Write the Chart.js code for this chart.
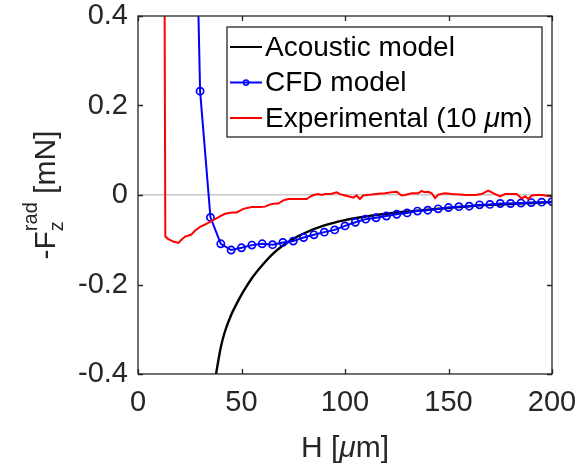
<!DOCTYPE html>
<html>
<head>
<meta charset="utf-8">
<script src="https://cdn.jsdelivr.net/npm/chart.js@4.4.0/dist/chart.umd.min.js"></script>
<style>
html, body { margin: 0; padding: 0; background: #fff; }
</style>
</head>
<body>
<canvas id="chart1" width="577" height="468"></canvas>
<script>
// Acoustic model (black)
const acousticH = [36, 38, 40, 42, 45, 48, 51, 55, 60, 65, 70, 75, 80, 90, 100, 110, 120, 130, 140, 150, 160, 170, 180, 190, 200]
const acousticF = [-0.448, -0.392, -0.340, -0.305, -0.268, -0.240, -0.215, -0.186, -0.157, -0.132, -0.113, -0.098, -0.086, -0.068, -0.056, -0.048, -0.042, -0.037, -0.033, -0.029, -0.025, -0.022, -0.020, -0.018, -0.016]

// CFD model (blue, circles)
const cfdH = [25, 30, 35, 40, 45, 50, 55, 60, 65, 70, 75, 80, 85, 90, 95, 100, 105, 110, 115, 120, 125, 130, 135, 140, 145, 150, 155, 160, 165, 170, 175, 180, 185, 190, 195, 200]
const cfdF = [1.3, 0.232, -0.050, -0.109, -0.123, -0.118, -0.112, -0.109, -0.111, -0.106, -0.103, -0.095, -0.089, -0.083, -0.078, -0.069, -0.061, -0.054, -0.051, -0.047, -0.043, -0.040, -0.036, -0.034, -0.031, -0.028, -0.026, -0.025, -0.022, -0.021, -0.019, -0.019, -0.018, -0.017, -0.016, -0.015]

// Experimental, 10 um (red)
const expH = [12.8, 13.2, 14.5, 17, 19.5, 21, 22.7, 25.6, 27.5, 30, 32.4, 34.8, 37.2, 39.6, 42, 45.3, 47.7, 50.9, 54.9, 58.9, 61.4, 63.8, 66.2, 67.8, 70.2, 72.6, 78.3, 81.5, 83.1, 84.7, 87.1, 88.7, 90.3, 92.8, 94.4, 96, 97.6, 100, 102.4, 104, 105.6, 107.2, 108.8, 110.5, 112.9, 116.1, 119.3, 122.6, 125, 127.4, 129, 132.2, 135.4, 137, 138.6, 140.2, 141.9, 143.5, 145.1, 148.3, 151.5, 155.6, 158, 162.8, 166, 169.2, 171.6, 174.9, 177.3, 180.5, 182.9, 185.4, 187, 188.6, 190.2, 192.6, 195, 198.2, 200]
const expF = [0.5, -0.093, -0.098, -0.104, -0.107, -0.100, -0.093, -0.089, -0.080, -0.071, -0.066, -0.060, -0.054, -0.048, -0.042, -0.039, -0.039, -0.031, -0.027, -0.027, -0.026, -0.021, -0.019, -0.019, -0.012, -0.009, -0.009, -0.009, -0.004, 0, 0.002, 0, 0.002, 0.002, 0.004, 0.006, 0.002, -0.001, -0.004, -0.006, -0.001, -0.009, -0.001, 0, 0.001, 0.003, 0.004, 0.006, 0.007, -0.001, 0, 0.004, 0.004, 0.009, 0.006, 0.007, 0.004, -0.007, 0.001, 0.004, 0.002, 0.001, 0, 0, 0.002, 0.010, 0.004, -0.003, 0.002, 0.002, 0.002, -0.008, -0.003, -0.009, -0.001, 0, 0, -0.002, -0.003]

const xTicks = [0, 50, 100, 150, 200]
const yTicks = [-0.4, -0.2, 0, 0.2, 0.4]
const yTickLabels = ['-0.4', '-0.2', '0', '0.2', '0.4']

const FONT = "'Liberation Sans', Arial, Helvetica, sans-serif"
const AXIS_COLOR = '#262626'

const pts = (xs, ys) => xs.map((h, i) => ({ x: h, y: ys[i] }))

// draw text pieces, italic where asked, returns end x
function drawPieces(ctx, pieces, x, y, size) {
  pieces.forEach(p => {
    ctx.font = (p.italic ? 'italic ' : '') + size + 'px ' + FONT
    ctx.fillText(p.t, x, y)
    x += ctx.measureText(p.t).width
  })
  return x
}
function splitMu(str) {
  const out = []
  str.split('μ').forEach((s, i) => {
    if (i > 0) out.push({ t: 'μ', italic: true })
    if (s) out.push({ t: s })
  })
  return out
}

const boxPlugin = {
  id: 'box',
  afterDatasetsDraw(chart) {
    const { ctx, chartArea: a, scales: { x, y } } = chart
    const tl = 5
    ctx.save()
    ctx.strokeStyle = AXIS_COLOR
    ctx.lineWidth = 1.3
    ctx.beginPath()
    x.ticks.forEach(t => {
      const px = Math.round(x.getPixelForValue(t.value)) + 0.5
      ctx.moveTo(px, a.bottom); ctx.lineTo(px, a.bottom - tl)
      ctx.moveTo(px, a.top); ctx.lineTo(px, a.top + tl)
    })
    y.ticks.forEach(t => {
      const py = Math.round(y.getPixelForValue(t.value)) + 0.5
      ctx.moveTo(a.left, py); ctx.lineTo(a.left + tl, py)
      ctx.moveTo(a.right, py); ctx.lineTo(a.right - tl, py)
    })
    ctx.stroke()
    ctx.strokeRect(a.left, a.top, a.right - a.left, a.bottom - a.top)
    ctx.restore()
  },
  afterDraw(chart) {
    const { ctx, chartArea: a } = chart
    ctx.save()
    ctx.fillStyle = AXIS_COLOR
    ctx.textBaseline = 'alphabetic'

    // x title
    const xt = splitMu('H [μm]')
    let w = 0
    xt.forEach(p => { ctx.font = (p.italic ? 'italic ' : '') + '30px ' + FONT; w += ctx.measureText(p.t).width })
    drawPieces(ctx, xt, (a.left + a.right) / 2 - w / 2, 457, 30)

    // y title: -F_z^rad [mN], rotated
    ctx.translate(55, (a.top + a.bottom) / 2)
    ctx.rotate(-Math.PI / 2)
    ctx.font = '30px ' + FONT
    const wF = ctx.measureText('-F').width
    const wU = ctx.measureText(' [mN]').width
    ctx.font = '20px ' + FONT
    const wS = ctx.measureText('rad').width
    let sx = -(wF + wS + wU) / 2
    ctx.font = '30px ' + FONT
    ctx.fillText('-F', sx, 0)
    sx += wF
    ctx.font = '20px ' + FONT
    ctx.fillText('rad', sx, -18)
    ctx.fillText('z', sx, 8)
    sx += wS
    ctx.font = '30px ' + FONT
    ctx.fillText(' [mN]', sx, 0)
    ctx.restore()

    // legend box inside the axes
    const lx = a.left + 89, ly = a.top + 11, lw = 315, lh = 110
    ctx.save()
    ctx.fillStyle = '#fff'
    ctx.fillRect(lx, ly, lw, lh)
    ctx.strokeStyle = AXIS_COLOR
    ctx.lineWidth = 1.3
    ctx.strokeRect(lx, ly, lw, lh)
    ctx.textBaseline = 'middle'
    chart.data.datasets.forEach((ds, i) => {
      const ry = ly + 20 + i * 35.5
      ctx.strokeStyle = ds.borderColor
      ctx.lineWidth = Math.min(ds.borderWidth, 2)
      ctx.beginPath()
      ctx.moveTo(lx + 3, ry); ctx.lineTo(lx + 35, ry)
      ctx.stroke()
      if (ds.pointRadius > 0) {
        ctx.lineWidth = 1.5
        ctx.beginPath()
        ctx.arc(lx + 19, ry, 2.6, 0, Math.PI * 2)
        ctx.stroke()
      }
      ctx.fillStyle = '#000'
      drawPieces(ctx, splitMu(ds.label), lx + 38, ry + 1, 28)
    })
    ctx.restore()
  }
}

const ctx = document.getElementById('chart1').getContext('2d')
new Chart(ctx, {
  type: 'line',
  data: {
    datasets: [
      {
        label: 'Acoustic model',
        data: pts(acousticH, acousticF),
        borderColor: '#000000',
        borderWidth: 2.4,
        pointRadius: 0,
        cubicInterpolationMode: 'monotone',
        order: 2
      },
      {
        label: 'CFD model',
        data: pts(cfdH, cfdF),
        borderColor: '#0000ff',
        borderWidth: 2,
        pointRadius: 3.6,
        pointBorderWidth: 1.7,
        pointBackgroundColor: 'rgba(0,0,0,0)',
        pointBorderColor: '#0000ff',
        tension: 0,
        order: 1
      },
      {
        label: 'Experimental (10 μm)',
        data: pts(expH, expF),
        borderColor: '#ff0000',
        borderWidth: 2,
        pointRadius: 0,
        tension: 0,
        order: 0
      }
    ]
  },
  options: {
    responsive: false,
    animation: false,
    events: [],
    layout: { padding: { left: 0, right: 25, top: 16, bottom: 0 } },
    plugins: { legend: { display: false }, tooltip: { enabled: false } },
    scales: {
      x: {
        type: 'linear',
        min: 0,
        max: 200,
        afterBuildTicks: s => { s.ticks = xTicks.map(v => ({ value: v })) },
        afterFit: s => { s.height = 94; s.paddingLeft = 0; s.paddingRight = 0 },
        grid: { display: false, drawTicks: false },
        border: { display: false },
        ticks: { color: AXIS_COLOR, font: { family: FONT, size: 29 }, padding: 12, maxRotation: 0 }
      },
      y: {
        type: 'linear',
        min: -0.4,
        max: 0.4,
        afterBuildTicks: s => { s.ticks = yTicks.map(v => ({ value: v })) },
        afterFit: s => { s.width = 138; s.paddingTop = 0; s.paddingBottom = 0 },
        grid: {
          drawTicks: false,
          lineWidth: 1.5,
          color: c => (c.tick && c.tick.value === 0) ? '#c8c8c8' : 'rgba(0,0,0,0)'
        },
        border: { display: false },
        ticks: {
          color: AXIS_COLOR,
          font: { family: FONT, size: 29 },
          padding: 10,
          callback: (v, i) => yTickLabels[yTicks.indexOf(v)]
        }
      }
    }
  },
  plugins: [boxPlugin]
})
</script>
</body>
</html>
